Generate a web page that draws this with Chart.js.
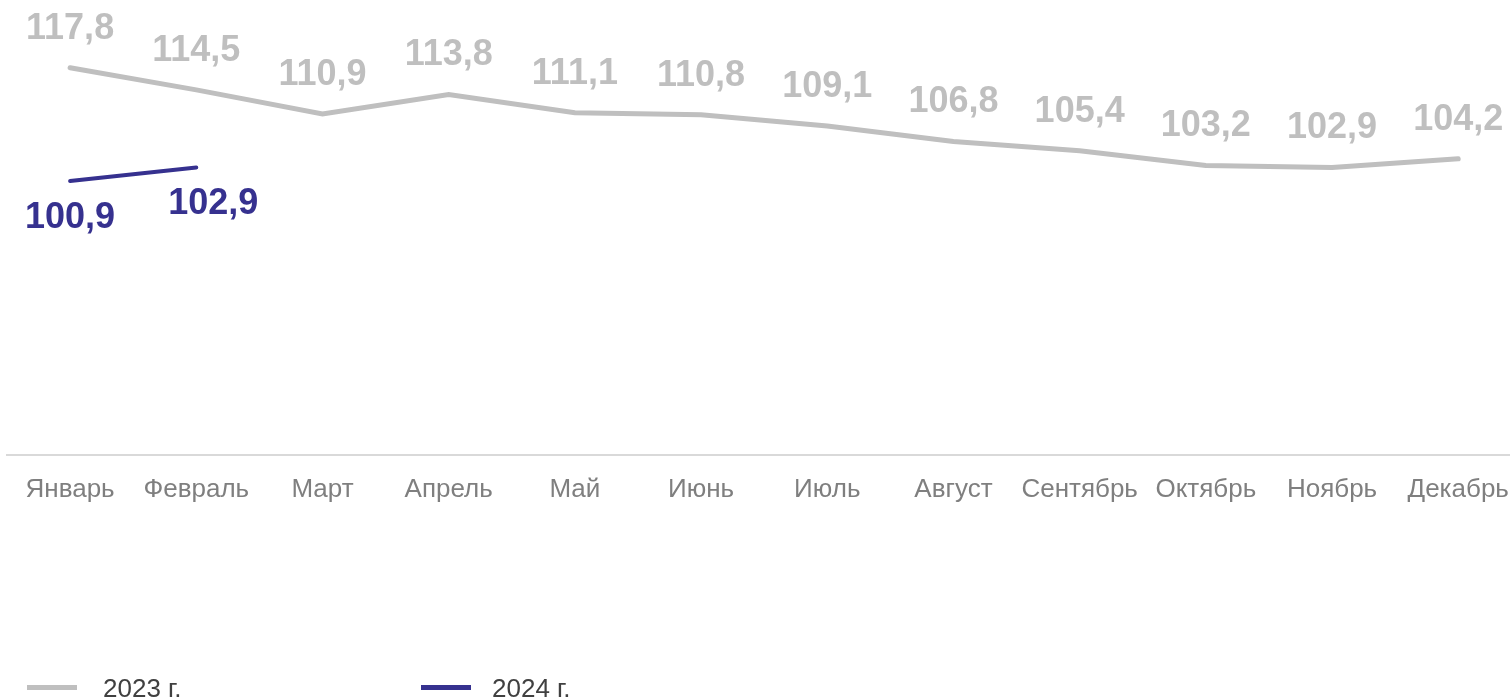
<!DOCTYPE html>
<html>
<head>
<meta charset="utf-8">
<script src="https://cdn.jsdelivr.net/npm/chart.js@4/dist/chart.umd.min.js"></script>
<style>
  html, body { margin: 0; padding: 0; background: #fff; overflow: hidden; }
  #wrap { position: relative; width: 1528px; height: 697px; }
  .legend { position: absolute; top: 673px; font: 26px "Liberation Sans", Arial, sans-serif; color: #404040; }
  .legend span.swatch { position: absolute; top: 12px; width: 50px; height: 5px; }
</style>
</head>
<body>
<div id="wrap">
  <canvas id="chart"></canvas>
  <div class="legend" style="left:27px"><span class="swatch" style="left:0;background:#bfbfbf"></span><span style="margin-left:76px">2023 г.</span></div>
  <div class="legend" style="left:421px"><span class="swatch" style="left:0;background:#36318f"></span><span style="margin-left:71px">2024 г.</span></div>
</div>
<script>
const months = ['Январь', 'Февраль', 'Март', 'Апрель', 'Май', 'Июнь', 'Июль', 'Август', 'Сентябрь', 'Октябрь', 'Ноябрь', 'Декабрь'];
const values2023 = [117.8, 114.5, 110.9, 113.8, 111.1, 110.8, 109.1, 106.8, 105.4, 103.2, 102.9, 104.2];
const values2024 = [100.9, 102.9];

// value labels above (2023) and below (2024) the lines
const valueLabels = {
  id: 'valueLabels',
  afterDatasetsDraw(chart) {
    const ctx = chart.ctx;
    ctx.save();
    ctx.font = 'bold 36px "Liberation Sans", Arial, sans-serif';
    ctx.textAlign = 'center';
    ctx.textBaseline = 'middle';
    chart.data.datasets.forEach((ds, i) => {
      const meta = chart.getDatasetMeta(i);
      ctx.fillStyle = ds.labelColor;
      meta.data.forEach((pt, j) => {
        const v = ds.data[j];
        if (v == null) return;
        ctx.fillText(v.toFixed(1).replace('.', ','), pt.x + ds.labelShift[j], pt.y + ds.labelOffset);
      });
    });
    ctx.restore();
  }
};

new Chart(document.getElementById('chart'), {
  type: 'line',
  data: {
    labels: months,
    datasets: [
      {
        label: '2023 г.',
        data: values2023,
        borderColor: '#bfbfbf',
        borderWidth: 5,
        borderCapStyle: 'round',
        pointRadius: 0,
        tension: 0,
        labelColor: '#bfbfbf',
        labelOffset: -39,
        labelShift: values2023.map(() => 0)
      },
      {
        label: '2024 г.',
        data: values2024,
        borderColor: '#36318f',
        borderWidth: 4,
        borderCapStyle: 'round',
        pointRadius: 0,
        tension: 0,
        labelColor: '#36318f',
        labelOffset: 37,
        labelShift: [0, 17]
      }
    ]
  },
  options: {
    responsive: true,
    maintainAspectRatio: false,
    animation: false,
    layout: { padding: { left: 7, right: 2, top: 53, bottom: 0 } },
    plugins: {
      legend: { display: false },
      tooltip: { enabled: false }
    },
    scales: {
      x: {
        offset: true,
        grid: { display: false, drawTicks: false },
        border: { display: true, color: '#d9d9d9', width: 2 },
        ticks: {
          color: '#7f7f7f',
          font: { family: '"Liberation Sans", Arial, sans-serif', size: 26 },
          padding: 19,
          maxRotation: 0,
          autoSkip: false
        },
        afterFit: scale => { scale.height = 242; }
      },
      y: {
        display: false,
        min: 60,
        max: 120
      }
    }
  },
  plugins: [valueLabels]
});
</script>
</body>
</html>
